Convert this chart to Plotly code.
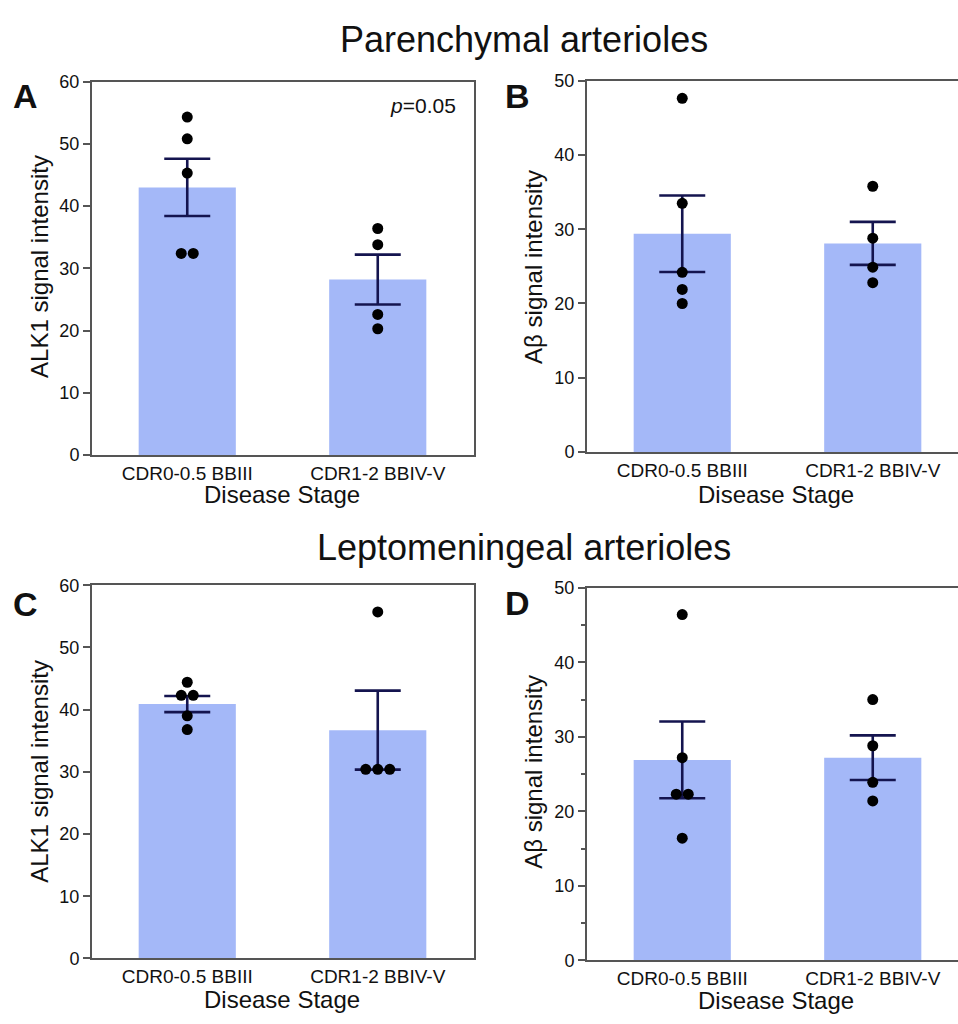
import plotly.graph_objects as go

W, H = 958, 1024

categories = ["CDR0-0.5 BBIII", "CDR1-2 BBIV-V"]

# Panel A: ALK1, parenchymal
a_means = [43.0, 28.2]
a_sem = [4.6, 4.0]
a_points = [[54.3, 50.8, 45.3, 32.4, 32.4], [36.4, 33.8, 22.6, 20.3]]

# Panel B: Abeta, parenchymal
b_means = [29.4, 28.1]
b_sem = [5.15, 2.9]
b_points = [[47.65, 33.5, 24.2, 21.9, 20.0], [35.8, 28.8, 24.9, 22.8]]

# Panel C: ALK1, leptomeningeal
c_means = [40.9, 36.7]
c_sem = [1.3, 6.35]
c_points = [[44.4, 42.3, 42.3, 39.0, 36.8], [55.7, 30.4, 30.4, 30.4]]

# Panel D: Abeta, leptomeningeal
d_means = [26.9, 27.2]
d_sem = [5.15, 3.0]
d_points = [[46.4, 27.2, 22.3, 22.3, 16.4], [35.0, 28.8, 23.9, 21.4]]

BAR_COLOR = "#a4b8f8"
ERR_COLOR = "#14144f"
AXIS_COLOR = "#555555"
FONT = "Liberation Sans, Arial, Helvetica, sans-serif"

def px(x):
    return x / W

def py(y):
    return 1 - y / H

fig = go.Figure()

panels = [
    # name, means, sem, points, x-dom px, y-dom px (top,bottom), ymax, full box, minor
    ("1", a_means, a_sem, a_points, (92, 474), (73, 454), 60, True, False),
    ("2", b_means, b_sem, b_points, (587, 958), (72.3, 450.7), 50, False, False),
    ("3", c_means, c_sem, c_points, (92, 474), (586.7, 967.3), 60, True, False),
    ("4", d_means, d_sem, d_points, (587, 958), (589.3, 969.3), 50, False, True),
]

PX_PER_CAT = 190.5

def swarm(values, spacing):
    offs = []
    for i, v in enumerate(values):
        same = [j for j, w in enumerate(values) if w == v]
        k = same.index(i)
        n = len(same)
        offs.append((k - (n - 1) / 2) * spacing)
    return offs

for name, means, sem, pts, xd, yd, ymax, fullbox, minor in panels:
    xa = "x" if name == "1" else "x" + name
    ya = "y" if name == "1" else "y" + name
    fig.add_trace(go.Bar(
        x=[0, 1], y=means, width=0.51, marker=dict(color=BAR_COLOR, line=dict(width=0)),
        error_y=dict(type="data", array=sem, color=ERR_COLOR, thickness=2.6, width=23),
        xaxis=xa, yaxis=ya, showlegend=False, hoverinfo="skip",
    ))
    spacing = 12 / PX_PER_CAT
    for ci, vals in enumerate(pts):
        offs = swarm(vals, spacing)
        fig.add_trace(go.Scatter(
            x=[ci + o for o in offs], y=vals, mode="markers",
            marker=dict(color="black", size=11, line=dict(width=0)),
            xaxis=xa, yaxis=ya, showlegend=False, hoverinfo="skip",
        ))
    xr_end = -0.5 + (xd[1] - xd[0]) / PX_PER_CAT
    xkey = "xaxis" if name == "1" else "xaxis" + name
    ykey = "yaxis" if name == "1" else "yaxis" + name
    fig.update_layout(**{
        xkey: dict(
            domain=[px(xd[0]), px(xd[1])], anchor=ya, range=[-0.5, xr_end],
            tickvals=[0, 1], ticktext=categories, ticks="",
            showline=True, mirror=True, linecolor=AXIS_COLOR, linewidth=2,
            showgrid=False, zeroline=False,
            tickfont=dict(family=FONT, size=19, color="#111111"),
            fixedrange=True,
        ),
        ykey: dict(
            domain=[py(yd[1]), py(yd[0])], anchor=xa, range=[0, ymax],
            dtick=10, ticks="outside", ticklen=7, tickwidth=2, tickcolor=AXIS_COLOR,
            showline=True, mirror=fullbox, linecolor=AXIS_COLOR, linewidth=2,
            showgrid=False, zeroline=False,
            tickfont=dict(family=FONT, size=18, color="#111111"),
            minor=dict(ticks="outside", ticklen=4, tickwidth=1.5, tickcolor=AXIS_COLOR, dtick=5, showgrid=False) if minor else None,
            fixedrange=True,
        ),
    })

annotations = []

def ann(text, x, y, size, bold=False, angle=0):
    annotations.append(dict(
        text=text, x=px(x), y=py(y), xref="paper", yref="paper",
        xanchor="center", yanchor="middle", showarrow=False, textangle=angle,
        font=dict(family=FONT, size=size, color="#111111", weight="bold" if bold else "normal"),
    ))

ann("Parenchymal arterioles", 524, 30, 36)
ann("Leptomeningeal arterioles", 524, 548, 36)
ann("A", 25, 88, 34, bold=True)
ann("B", 517, 88, 34, bold=True)
ann("C", 25, 606, 34, bold=True)
ann("D", 517, 605, 34, bold=True)
ann("<i>p</i>=0.05", 423, 97, 21)
ann("ALK1 signal intensity", 40, 262, 24, angle=-90)
ann("Aβ signal intensity", 534, 262, 24, angle=-90)
ann("ALK1 signal intensity", 40, 777, 24, angle=-90)
ann("Aβ signal intensity", 534, 777, 24, angle=-90)
ann("Disease Stage", 282, 494, 24)
ann("Disease Stage", 776, 494, 24)
ann("Disease Stage", 282, 1009, 24)
ann("Disease Stage", 776, 1010, 24)

fig.update_layout(
    width=W, height=H, margin=dict(l=0, r=0, t=0, b=0),
    paper_bgcolor="white", plot_bgcolor="white",
    annotations=annotations, barmode="overlay", showlegend=False,
    font=dict(family=FONT),
)

fig.write_html(
    "out.html",
    config={"displayModeBar": False},
    post_script="document.body.style.margin='0';document.body.style.overflow='hidden';"
                "document.documentElement.style.overflow='hidden';",
)
